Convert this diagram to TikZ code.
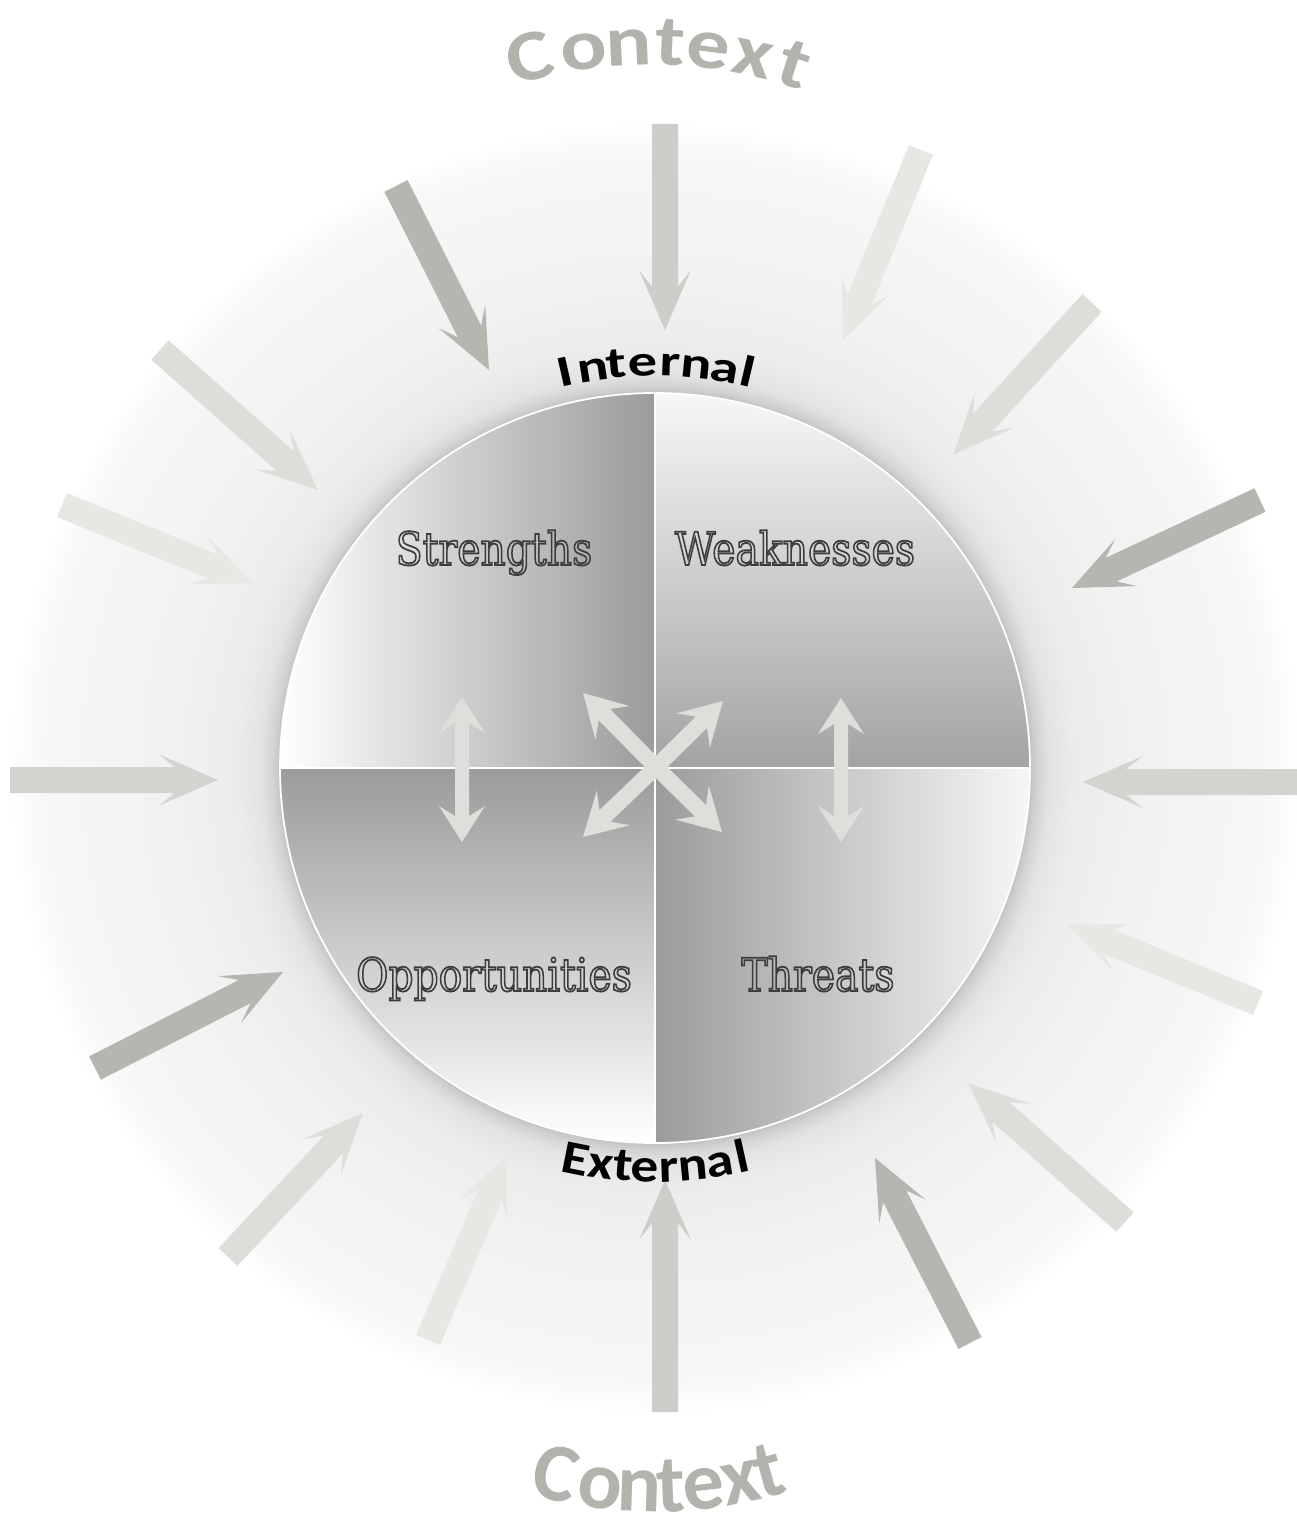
\documentclass[tikz,border=0pt]{standalone}
\usepackage{fontspec}
\usepackage{graphicx}
\usetikzlibrary{calc}
\newfontfamily\ctxfont{Carlito}
\newfontfamily\quadfont{DejaVu Serif}
\definecolor{ctxgray}{HTML}{B3B3AE}
\definecolor{arrA}{HTML}{CDCDC9}
\definecolor{arrB}{HTML}{E7E7E4}
\definecolor{arrC}{HTML}{DDDDD9}
\definecolor{arrD}{HTML}{B6B6B1}
\definecolor{arrE}{HTML}{D3D3CF}
\definecolor{cenarr}{HTML}{DEDEDA}
\definecolor{outl}{HTML}{3C3C3C}
\definecolor{qA}{HTML}{9B9B9B}
\definecolor{qB}{HTML}{A3A3A3}
\definecolor{qC}{HTML}{F7F7F7}
\definecolor{sh0}{HTML}{C0C0C0}
\definecolor{sh1}{HTML}{D2D2D2}
\definecolor{sh2}{HTML}{E3E3E3}
\definecolor{sh3}{HTML}{ECECEC}
\definecolor{sh4}{HTML}{F1F1F1}
\definecolor{sh5}{HTML}{F5F5F5}
\definecolor{sh6}{HTML}{F8F8F8}
\pgfdeclareradialshading{halo}{\pgfpoint{0bp}{0bp}}{color(0bp)=(sh0); color(14.5bp)=(sh0); color(14.8bp)=(sh1); color(15.3bp)=(sh2); color(16.3bp)=(sh3); color(18.5bp)=(sh4); color(22bp)=(sh5); color(24bp)=(sh6); color(25bp)=(white); color(50bp)=(white)}
% tail, tip, colour, shaft half width, head half width, head length (px)
\newcommand\blockarrow[6]{%
  \pgfpointdiff{\pgfpointanchor{#1}{center}}{\pgfpointanchor{#2}{center}}%
  \pgfgetlastxy{\bax}{\bay}%
  \pgfmathsetmacro\baang{atan2(\bay,\bax)}%
  \pgfmathsetmacro\balen{veclen(\bax,\bay)/0.569055}%
  \fill[#3, shift={(#1)}, rotate=\baang] (0,-#4) -- ({\balen-0.72*#6},-#4) -- ({\balen-#6},-#5) -- (\balen,0) -- ({\balen-#6},#5) -- ({\balen-0.72*#6},#4) -- (0,#4) -- cycle;
}
\newcommand\outlinetext[1]{\scalebox{0.86}[1]{\color{outl}\special{pdf:literal direct 1 Tr 1.0 w}#1\special{pdf:literal direct 0 Tr}}}
\begin{document}
\begin{tikzpicture}[x=0.02cm, y=0.02cm,
  ctxtop/.style={anchor=base, inner sep=0, text=ctxgray, font=\ctxfont\bfseries\fontsize{41}{41}\selectfont},
  ctxbot/.style={anchor=base, inner sep=0, text=ctxgray, font=\ctxfont\bfseries\fontsize{47}{47}\selectfont},
  inttext/.style={anchor=base, inner sep=0, text=black, font=\ctxfont\bfseries\fontsize{25}{25}\selectfont},
  exttext/.style={anchor=base, inner sep=0, text=black, font=\ctxfont\bfseries\fontsize{27}{27}\selectfont},
  quadlabel/.style={anchor=base, inner sep=0, font=\quadfont\fontsize{26}{30}\selectfont}]
\useasboundingbox (0,0) rectangle (1297,-1527);
\fill[white] (0,0) rectangle (1297,-1527);
\coordinate (O) at (655,-768);
% halo and shadow
\shade[shading=halo] (O) circle[radius=645];
% outer arrows
\coordinate (t1) at (665,-124);  \coordinate (h1) at (665,-330);
\coordinate (t2) at (921,-150);  \coordinate (h2) at (843,-340);
\coordinate (t3) at (1092,-303); \coordinate (h3) at (953,-455);
\coordinate (t4) at (1260,-500); \coordinate (h4) at (1072,-588);
\coordinate (t5) at (1297,-782); \coordinate (h5) at (1083,-782);
\coordinate (t6) at (1258,-1003);\coordinate (h6) at (1068,-925);
\coordinate (t7) at (1125,-1222);\coordinate (h7) at (968,-1083);
\coordinate (t8) at (970,-1343); \coordinate (h8) at (875,-1158);
\coordinate (t9) at (665,-1412); \coordinate (h9) at (665,-1180);
\coordinate (t10) at (428,-1340);\coordinate (h10) at (507,-1155);
\coordinate (t11) at (228,-1257);\coordinate (h11) at (363,-1113);
\coordinate (t12) at (95,-1068); \coordinate (h12) at (283,-972);
\coordinate (t13) at (10,-780);  \coordinate (h13) at (218,-780);
\coordinate (t14) at (62,-505);  \coordinate (h14) at (253,-583);
\coordinate (t15) at (160,-350); \coordinate (h15) at (318,-490);
\coordinate (t16) at (396,-186); \coordinate (h16) at (489,-370);
\blockarrow{t1}{h1}{arrA}{13}{26}{60}
\blockarrow{t2}{h2}{arrB}{13}{26}{60}
\blockarrow{t3}{h3}{arrC}{13}{26}{60}
\blockarrow{t4}{h4}{arrD}{13}{26}{60}
\blockarrow{t5}{h5}{arrE}{13}{26}{60}
\blockarrow{t6}{h6}{arrB}{13}{26}{60}
\blockarrow{t7}{h7}{arrC}{13}{26}{60}
\blockarrow{t8}{h8}{arrD}{13}{26}{60}
\blockarrow{t9}{h9}{arrA}{13}{26}{60}
\blockarrow{t10}{h10}{arrB}{13}{26}{60}
\blockarrow{t11}{h11}{arrC}{13}{26}{60}
\blockarrow{t12}{h12}{arrD}{13}{26}{60}
\blockarrow{t13}{h13}{arrE}{13}{26}{60}
\blockarrow{t14}{h14}{arrB}{13}{26}{60}
\blockarrow{t15}{h15}{arrC}{13}{26}{60}
\blockarrow{t16}{h16}{arrD}{13}{26}{60}
% quadrants
\shade[left color=white, right color=qA] (O) -- ++(-375,0) arc[start angle=180, end angle=90, radius=375] -- cycle;
\shade[top color=qC, bottom color=qB] (O) -- ++(0,375) arc[start angle=90, end angle=0, radius=375] -- cycle;
\shade[top color=qA, bottom color=white] (O) -- ++(-375,0) arc[start angle=180, end angle=270, radius=375] -- cycle;
\shade[left color=qA, right color=qC] (O) -- ++(0,-375) arc[start angle=270, end angle=360, radius=375] -- cycle;
\coordinate (ctop) at (655,-393); \coordinate (cbot) at (655,-1143);
\coordinate (clft) at (280,-768); \coordinate (crgt) at (1030,-768);
\draw[white, line width=1.2pt] (ctop) -- (cbot);
\draw[white, line width=1.2pt] (clft) -- (crgt);
\draw[white, line width=1pt] (O) circle[radius=375];
% labels
\node[quadlabel] (S) at (494,-565) {\outlinetext{Strengths}};
\node[quadlabel] (W) at (795,-565) {\outlinetext{Weaknesses}};
\node[quadlabel] (Op) at (494,-991) {\outlinetext{Opportunities}};
\node[quadlabel] (T) at (818,-991) {\outlinetext{Threats}};
% centre arrows
\coordinate (cc) at (656,-767);
\coordinate (nw) at (583,-693); \coordinate (ne) at (723,-701);
\coordinate (sw) at (583,-837); \coordinate (se) at (722,-832);
\blockarrow{cc}{nw}{cenarr}{8}{24}{42}
\blockarrow{cc}{ne}{cenarr}{8}{24}{42}
\blockarrow{cc}{sw}{cenarr}{8}{24}{42}
\blockarrow{cc}{se}{cenarr}{8}{24}{42}
\coordinate (lm) at (462,-770); \coordinate (lt) at (462,-697); \coordinate (lb) at (462,-842);
\coordinate (rm) at (841,-770); \coordinate (rt) at (841,-698); \coordinate (rb) at (841,-842);
\blockarrow{lm}{lt}{cenarr}{7}{23}{36}
\blockarrow{lm}{lb}{cenarr}{7}{23}{36}
\blockarrow{rm}{rt}{cenarr}{7}{23}{36}
\blockarrow{rm}{rb}{cenarr}{7}{23}{36}
% Internal / External
\foreach \ang/\ch [count=\i] in {-12.8/I, -8.78/n, -5.55/t, -1.75/e, 2.19/r, 5.84/n, 9.96/a, 13.24/l}
  \node[inttext, rotate=-\ang] (in\i) at ($(O)+({90-\ang}:392)$) {\scalebox{1.33}[1]{\ch}};
\foreach \ang/\ch [count=\i] in {-11.42/E, -7.77/x, -4.57/t, -1.52/e, 1.94/r, 5.4/n, 9.32/a, 12.56/l}
  \node[exttext, rotate=\ang] (ex\i) at ($(O)+({-90+\ang}:414)$) {\scalebox{1.17}[1]{\ch}};
% Context
\coordinate (CT) at (650,-520);
\coordinate (CB) at (655,-1062);
\foreach \ang/\ch [count=\i] in {-14.6/C, -7.96/o, -2.5/n, 2.4/t, 7.07/e, 12.56/x, 17.65/t}
  \node[ctxtop, rotate=-\ang] (ct\i) at ($(CT)+({90-\ang}:455)$) {\scalebox{1.2}[1]{\ch}};
\foreach \ang/\ch [count=\i] in {-13.5/C, -7.4/o, -2.04/n, 2.17/t, 6.5/e, 11.5/x, 15.5/t}
  \node[ctxbot, rotate=\ang] (cb\i) at ($(CB)+({-90+\ang}:450)$) {\ch};
\end{tikzpicture}
\end{document}
